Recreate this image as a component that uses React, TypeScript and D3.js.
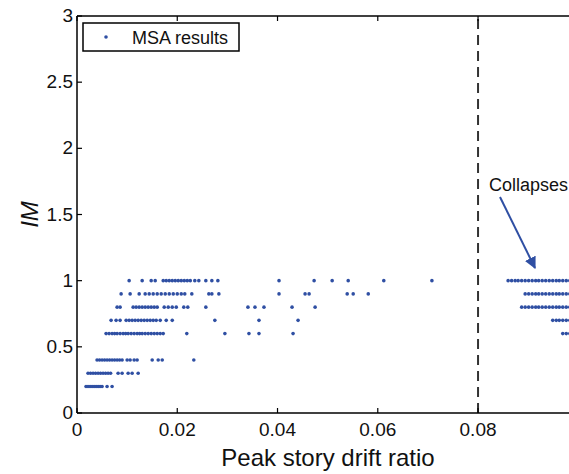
import React from "react";
import * as d3 from "d3";

const xTicks = [0, 0.02, 0.04, 0.06, 0.08, 0.1];
const xTickLabels = ["0", "0.02", "0.04", "0.06", "0.08", ""];
const yTicks = [0, 0.5, 1, 1.5, 2, 2.5, 3];
const yTickLabels = ["0", "0.5", "1", "1.5", "2", "2.5", "3"];

const im02 = [0.0018, 0.0022, 0.0026, 0.003, 0.0034, 0.0038, 0.0042, 0.0046, 0.005, 0.006, 0.007];
const im03 = [0.0022, 0.0027, 0.0032, 0.0037, 0.0042, 0.0047, 0.0052, 0.0057, 0.0062, 0.0067, 0.0082, 0.009, 0.0102, 0.011, 0.0122];
const im04 = [0.004, 0.0045, 0.005, 0.0055, 0.006, 0.0065, 0.007, 0.0075, 0.008, 0.0085, 0.009, 0.01, 0.0106, 0.0114, 0.012, 0.015, 0.0162, 0.017, 0.0233];
const im06 = [0.0058, 0.0064, 0.007, 0.0075, 0.008, 0.0086, 0.0092, 0.0097, 0.0102, 0.0108, 0.0114, 0.012, 0.0125, 0.013, 0.0136, 0.0142, 0.0148, 0.0154, 0.016, 0.0166, 0.0172, 0.0219, 0.0295, 0.0343, 0.0363, 0.0431];
const im07 = [0.0068, 0.0078, 0.0086, 0.0098, 0.0104, 0.011, 0.0116, 0.0122, 0.0128, 0.0134, 0.014, 0.0146, 0.0152, 0.0158, 0.0166, 0.0178, 0.019, 0.0275, 0.0363, 0.0441];
const im08 = [0.008, 0.0086, 0.0112, 0.0118, 0.0124, 0.013, 0.0136, 0.0142, 0.0148, 0.0154, 0.016, 0.0174, 0.0182, 0.019, 0.0198, 0.0213, 0.0221, 0.0257, 0.0341, 0.0355, 0.0373, 0.0429, 0.0475];
const im09 = [0.0088, 0.0106, 0.0124, 0.0136, 0.0144, 0.0152, 0.016, 0.0168, 0.0176, 0.0184, 0.0192, 0.02, 0.0208, 0.0215, 0.0229, 0.0263, 0.0269, 0.0283, 0.0403, 0.0455, 0.0463, 0.0539, 0.0551, 0.0581];
const im10 = [0.0104, 0.013, 0.0148, 0.0156, 0.0172, 0.0178, 0.0184, 0.019, 0.0196, 0.0202, 0.0208, 0.0214, 0.022, 0.0226, 0.0235, 0.0243, 0.0257, 0.0269, 0.0281, 0.0403, 0.0473, 0.0509, 0.0541, 0.0612, 0.0708];

const col10 = [0.086, 0.0867, 0.0874, 0.088, 0.0887, 0.0894, 0.0901, 0.0908, 0.0915, 0.0921, 0.0928, 0.0935, 0.0942, 0.0949, 0.0956, 0.0962, 0.0969, 0.0976, 0.0983, 0.099];
const col09 = [0.0894, 0.0901, 0.0908, 0.0915, 0.0921, 0.0928, 0.0935, 0.0942, 0.0949, 0.0956, 0.0962, 0.0969, 0.0976, 0.0983, 0.099];
const col08 = [0.0887, 0.0894, 0.0901, 0.0908, 0.0915, 0.0921, 0.0928, 0.0935, 0.0942, 0.0949, 0.0956, 0.0962, 0.0969, 0.0976, 0.0983, 0.099];
const col07 = [0.0949, 0.0956, 0.0962, 0.0969, 0.0976, 0.0983, 0.099];
const col06 = [0.0969, 0.0976, 0.0983, 0.099];

const rows: [number, number[]][] = [
  [0.2, im02], [0.3, im03], [0.4, im04], [0.6, im06], [0.7, im07], [0.8, im08], [0.9, im09], [1.0, im10],
  [1.0, col10], [0.9, col09], [0.8, col08], [0.7, col07], [0.6, col06],
];

const W = 569, H = 474;
const L = 77, T = 16, B = 413, R = 578.3;
const dotColor = "#2f4fa3";
const font = "'Liberation Sans', Arial, sans-serif";

export default function App() {
  const x = d3.scaleLinear().domain([0, 0.1]).range([L, R]);
  const y = d3.scaleLinear().domain([0, 3]).range([B, T]);
  const pts: { px: number; py: number }[] = [];
  rows.forEach(([im, xs]) => xs.forEach((v) => pts.push({ px: x(v), py: y(im) })));
  return (
    <svg width={W} height={H} style={{ position: "absolute", left: 0, top: 0, background: "#fff" }} fontFamily={font}>
      <defs>
        <marker id="ah" viewBox="0 0 10 10" refX="9" refY="5" markerWidth="6" markerHeight="6" orient="auto">
          <path d="M0,0 L10,5 L0,10 z" fill="#2f4fa3" />
        </marker>
      </defs>
      <rect x={0} y={0} width={W} height={H} fill="#fff" />
      <line x1={x(0.08)} x2={x(0.08)} y1={y(0)} y2={y(3)} stroke="#333" strokeWidth={2} strokeDasharray="10,6" />
      {pts.map((p, i) => (
        <circle key={i} cx={p.px} cy={p.py} r={1.8} fill={dotColor} />
      ))}
      <line x1={L} x2={R} y1={B} y2={B} stroke="#000" strokeWidth={1.5} />
      <line x1={L} x2={R} y1={T} y2={T} stroke="#000" strokeWidth={1.5} />
      <line x1={L} x2={L} y1={T} y2={B} stroke="#000" strokeWidth={1.5} />
      {xTicks.map((t, i) => (
        <g key={"xt" + i}>
          <line x1={x(t)} x2={x(t)} y1={B} y2={B - 5} stroke="#000" strokeWidth={1.2} />
          <line x1={x(t)} x2={x(t)} y1={T} y2={T + 5} stroke="#000" strokeWidth={1.2} />
          {xTickLabels[i] && (
            <text x={x(t)} y={436} textAnchor="middle" fontSize={19} fill="#111">{xTickLabels[i]}</text>
          )}
        </g>
      ))}
      {yTicks.map((t, i) => (
        <g key={"yt" + i}>
          <line x1={L} x2={L + 5} y1={y(t)} y2={y(t)} stroke="#000" strokeWidth={1.2} />
          <text x={73} y={y(t) + 6} textAnchor="end" fontSize={19} fill="#111">{yTickLabels[i]}</text>
        </g>
      ))}
      <text x={(219 + 437) / 2} y={466} textAnchor="middle" fontSize={24} fill="#111">Peak story drift ratio</text>
      <text transform={`translate(38,${y(1.5)}) rotate(-90)`} textAnchor="middle" fontSize={24} fontStyle="italic" fill="#111">IM</text>
      <rect x={83} y={23} width={156} height={28} fill="#fff" stroke="#000" strokeWidth={1.5} />
      <circle cx={106} cy={37} r={1.8} fill={dotColor} />
      <text x={132} y={43.5} fontSize={18} fill="#111">MSA results</text>
      <text x={489} y={191} fontSize={18} fill="#111">Collapses</text>
      <line x1={500} y1={197} x2={535} y2={268} stroke="#2f4fa3" strokeWidth={2} markerEnd="url(#ah)" />
    </svg>
  );
}
